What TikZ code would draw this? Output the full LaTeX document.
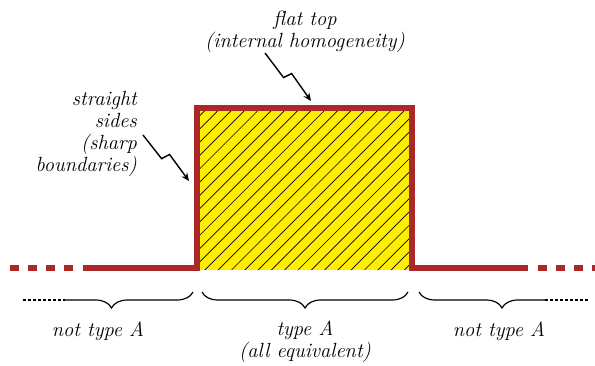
\documentclass[tikz,border=0pt]{standalone}
\usepackage{fontspec}
\usepackage{tikz}
\usetikzlibrary{positioning, arrows.meta, calc, decorations.pathreplacing}
\definecolor{edgered}{RGB}{170,40,40}
\definecolor{boxyellow}{RGB}{255,238,0}

\begin{document}
\begin{tikzpicture}[
        x=1pt, y=-1pt,
        lbl/.style={font=\fontsize{20.5}{22}\selectfont\itshape, inner sep=0pt, align=center},
        edge/.style={draw=edgered, line width=6pt},
        edgedash/.style={edge, dash pattern=on 8.5pt off 9.5pt},
        hatchline/.style={line width=0.7pt},
        bolt/.style={-{Stealth[length=8pt, width=7pt]}, line width=1.4pt,
            to path={-- ($(\tikztostart)!0.46!(\tikztotarget)!3.6pt!-90:(\tikztotarget)$)
                     -- ($(\tikztostart)!0.5!(\tikztotarget)!5pt!90:(\tikztotarget)$)
                     -- (\tikztotarget) \tikztonodes}},
        span/.style={decorate, decoration={brace, mirror, amplitude=16pt}, line width=1.2pt},
        tail/.style={line width=1.2pt, dash pattern=on 3pt off 2pt}
    ]
    \useasboundingbox (0,0) rectangle (595,366);

    % box
    \coordinate (boxbl) at (197,268);
    \coordinate (boxtl) at (197,108);
    \coordinate (boxtr) at (412,108);
    \coordinate (boxbr) at (412,268);
    \fill[boxyellow] ($(boxbl)+(0,2)$) rectangle (boxtr);
    \begin{scope}
        \clip ($(boxbl)+(0,2)$) rectangle (boxtr);
        \foreach \k in {0,...,29}
            \draw[hatchline] ({32+13.3*\k},270) -- ++(170,-170);
    \end{scope}

    % base line
    \coordinate (baseL) at (10,268);
    \coordinate (baseLend) at (76,268);
    \coordinate (baseLsolid) at (83,268);
    \coordinate (baseRsolid) at (528,268);
    \coordinate (baseR) at (538,268);
    \coordinate (baseRend) at (600,268);
    \draw[edgedash] (baseL) -- (baseLend);
    \draw[edge] (baseLsolid) -- (boxbl) -- (boxtl) -- (boxtr) -- (boxbr) -- (baseRsolid);
    \draw[edgedash] (baseR) -- (baseRend);

    % labels
    \node[lbl, anchor=base] (flatlbl) at (305,48) {flat top\\(internal homogeneity)};
    \node[lbl, align=right, anchor=base east] (sidelbl) at (137,172) {straight\\sides\\(sharp\\boundaries)};
    \node[lbl, anchor=base] (leftlbl) at (98,337) {not type A};
    \node[lbl, anchor=base] (midlbl) at (305,358) {type A\\(all equivalent)};
    \node[lbl, anchor=base] (rightlbl) at (499,337) {not type A};

    % braces
    \draw[span] (202,292) -- (408,292);
    \begin{scope}
        \clip (65,280) rectangle (200,320);
        \draw[span] (30,292) -- (193,292);
    \end{scope}
    \draw[tail] (23,300) -- (65,300);
    \begin{scope}
        \clip (410,280) rectangle (545,320);
        \draw[span] (419,292) -- (585,292);
    \end{scope}
    \draw[tail] (545,300) -- (588,300);

    % arrows
    \coordinate (flattail) at (265,53);
    \coordinate (flattip) at (311,101);
    \coordinate (sidetail) at (143,135);
    \coordinate (sidetip) at (189,181);
    \draw[bolt] (flattail) to (flattip);
    \draw[bolt] (sidetail) to (sidetip);
\end{tikzpicture}
\end{document}
